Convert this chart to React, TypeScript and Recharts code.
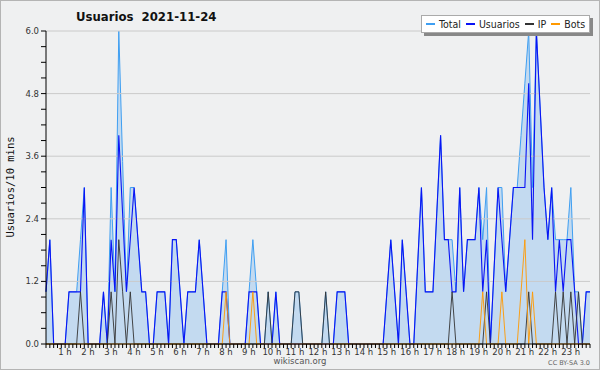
import React from 'react';
import { ComposedChart, Area, Line, XAxis, YAxis, ReferenceLine } from 'recharts';

// 10-minute slots, 00:00 .. 23:40
const usuarios = [
  1, 2, 0, 0, 0, 0, 1, 1, 1, 1, 3, 0,
  0, 0, 0, 1, 0, 2, 1, 4, 2.5, 1, 2, 3,
  2, 1, 1, 0, 0, 1, 1, 1, 0, 2, 2, 1,
  0, 1, 1, 1, 2, 1, 0, 0, 0, 0, 1, 1,
  0, 0, 0, 0, 0, 1, 1, 1, 0, 0, 0, 0,
  1, 0, 0, 0, 0, 0, 0, 0, 0, 0, 0, 0,
  0, 0, 0, 0, 1, 1, 1, 0, 0, 0, 0, 0,
  0, 0, 0, 0, 0, 1, 2, 1, 0, 2, 1, 0,
  0, 1.5, 3, 1, 1, 1, 2.5, 4, 2, 2, 1, 1,
  3, 1, 2, 2, 2, 3, 1, 2, 0, 1.5, 3, 2,
  1, 2, 3, 3, 3, 3, 5, 2, 6, 4.5, 3, 2,
  3, 1, 2, 1, 2, 2, 1, 0, 0, 1, 1,
];

const ip = [
  0, 0, 0, 0, 0, 0, 0, 0, 0, 1, 0, 0,
  0, 0, 0, 0, 0, 1, 0, 2, 1, 0, 1, 0,
  0, 0, 0, 0, 0, 0, 0, 0, 0, 0, 0, 0,
  0, 0, 0, 0, 0, 0, 0, 0, 0, 0, 0, 0,
  0, 0, 0, 0, 0, 0, 0, 0, 0, 0, 1, 0,
  0, 0, 0, 0, 0, 1, 1, 0, 0, 0, 0, 0,
  0, 1, 0, 0, 0, 0, 0, 0, 0, 0, 0, 0,
  0, 0, 0, 0, 0, 0, 0, 0, 0, 0, 0, 0,
  0, 0, 0, 0, 0, 0, 0, 0, 0, 0, 1, 0,
  0, 0, 0, 0, 0, 0, 0, 1, 0, 0, 0, 0,
  0, 0, 0, 0, 0, 0, 1, 0, 0, 0, 0, 0,
  0, 1, 0, 1, 0, 1, 0, 1, 0, 0, 0,
];

const bots = [
  0, 0, 0, 0, 0, 0, 0, 0, 0, 0, 0, 0,
  0, 0, 0, 0, 0, 0, 0, 0, 0, 0, 0, 0,
  0, 0, 0, 0, 0, 0, 0, 0, 0, 0, 0, 0,
  0, 0, 0, 0, 0, 0, 0, 0, 0, 0, 0, 1,
  0, 0, 0, 0, 0, 0, 1, 0, 0, 0, 0, 0,
  0, 0, 0, 0, 0, 0, 0, 0, 0, 0, 0, 0,
  0, 0, 0, 0, 0, 0, 0, 0, 0, 0, 0, 0,
  0, 0, 0, 0, 0, 0, 0, 0, 0, 0, 0, 0,
  0, 0, 0, 0, 0, 0, 0, 0, 0, 0, 0, 0,
  0, 0, 0, 0, 0, 0, 1, 0, 0, 0, 0, 1,
  0, 0, 0, 0, 1, 2, 0, 1, 0, 0, 0, 0,
  0, 0, 0, 0, 0, 0, 0, 0, 0, 0, 0,
];

const total = [
  1, 2, 0, 0, 0, 0, 1, 1, 1, 2, 3, 0,
  0, 0, 0, 1, 0, 3, 1, 6, 3.5, 1, 3, 3,
  2, 1, 1, 0, 0, 1, 1, 1, 0, 2, 2, 1,
  0, 1, 1, 1, 2, 1, 0, 0, 0, 0, 1, 2,
  0, 0, 0, 0, 0, 1, 2, 1, 0, 0, 1, 0,
  1, 0, 0, 0, 0, 1, 1, 0, 0, 0, 0, 0,
  0, 1, 0, 0, 1, 1, 1, 0, 0, 0, 0, 0,
  0, 0, 0, 0, 0, 1, 2, 1, 0, 2, 1, 0,
  0, 1.5, 3, 1, 1, 1, 2.5, 4, 2, 2, 2, 1,
  3, 1, 2, 2, 2, 3, 2, 3, 0, 1.5, 3, 3,
  1, 2, 3, 3, 4, 5, 6, 3, 6, 4.5, 3, 2,
  3, 2, 2, 2, 2, 3, 1, 1, 0, 1, 1,
];

const hourLabels = [
  '1 h', '2 h', '3 h', '4 h', '5 h', '6 h', '7 h', '8 h', '9 h', '10 h', '11 h', '12 h',
  '13 h', '14 h', '15 h', '16 h', '17 h', '18 h', '19 h', '20 h', '21 h', '22 h', '23 h',
];
const yMajor = [0, 1.2, 2.4, 3.6, 4.8, 6.0];
const yTicks = [
  0, 0.3, 0.6, 0.9, 1.2, 1.5, 1.8, 2.1, 2.4, 2.7, 3.0,
  3.3, 3.6, 3.9, 4.2, 4.5, 4.8, 5.1, 5.4, 5.7, 6.0,
];

const series = [
  { key: 'total', name: 'Total', color: '#3f9ff2' },
  { key: 'usuarios', name: 'Usuarios', color: '#0a14f5' },
  { key: 'ip', name: 'IP', color: '#333333' },
  { key: 'bots', name: 'Bots', color: '#ff9900' },
];

const data = total.map((t, i) => ({
  i,
  total: t,
  usuarios: usuarios[i],
  ip: ip[i],
  bots: bots[i],
}));

const xTicks = data.map(d => d.i);
const FONT = '"DejaVu Sans", sans-serif';
const NARROW = '"DejaVu Sans Condensed", "Liberation Sans Narrow", "DejaVu Sans", sans-serif';

const XTick = (props: any) => {
  const { x, y, payload } = props;
  const v = payload.value;
  if (v === 0 || v % 6 !== 0) return <g />;
  return (
    <text x={x - 4} y={y - 1} dy="0.71em" textAnchor="middle" fontSize={8.5} fill="#333" fontFamily={FONT}>
      {hourLabels[v / 6 - 1]}
    </text>
  );
};

const YTick = (props: any) => {
  const { x, y, payload } = props;
  if (!yMajor.includes(payload.value)) return <g />;
  return (
    <text x={x} y={y} dy="0.35em" textAnchor="end" fontSize={8.5} fill="#333" fontFamily={FONT}>
      {payload.value.toFixed(1)}
    </text>
  );
};

export default function App() {
  return (
    <div style={{ position: 'fixed', left: 0, top: 0, width: 600, height: 370, background: '#eff0f1', fontFamily: FONT }}>
      <ComposedChart width={600} height={370} data={data} margin={{ top: 31, right: 10, bottom: 0, left: 0 }}>
        {yMajor.slice(1).map(v => (
          <ReferenceLine key={v} y={v} stroke="#cacaca" strokeWidth={1} ifOverflow="extendDomain" />
        ))}
        <XAxis
          type="number"
          dataKey="i"
          domain={[0, 142]}
          ticks={xTicks}
          interval={0}
          tickSize={4}
          height={26}
          axisLine={{ stroke: '#000' }}
          tickLine={{ stroke: '#000' }}
          tick={<XTick />}
        />
        <YAxis
          type="number"
          domain={[0, 6]}
          ticks={yTicks}
          interval={0}
          tickSize={5}
          width={46}
          axisLine={{ stroke: '#000' }}
          tickLine={{ stroke: '#000' }}
          tick={<YTick />}
        />
        <Area
          type="linear"
          dataKey="total"
          stroke={series[0].color}
          strokeWidth={1}
          fill="#9ec8ee"
          fillOpacity={0.55}
          dot={false}
          activeDot={false}
          isAnimationActive={false}
        />
        <Line type="linear" dataKey="usuarios" stroke={series[1].color} strokeWidth={1.1} dot={false} activeDot={false} isAnimationActive={false} />
        <Line type="linear" dataKey="ip" stroke={series[2].color} strokeWidth={0.9} dot={false} activeDot={false} isAnimationActive={false} />
        <Line type="linear" dataKey="bots" stroke={series[3].color} strokeWidth={0.9} dot={false} activeDot={false} isAnimationActive={false} />
      </ComposedChart>

      <div style={{ position: 'absolute', left: 76, top: 9, fontFamily: NARROW, fontSize: 13, fontWeight: 'bold', color: '#111', whiteSpace: 'pre' }}>
        {'Usuarios  2021-11-24'}
      </div>

      <div
        style={{
          position: 'absolute', left: 421, top: 15, width: 169, height: 18, boxSizing: 'border-box',
          background: '#fff', border: '1px solid #aaa', boxShadow: '3px 3px 0 #888',
          display: 'flex', alignItems: 'center', paddingLeft: 4, fontFamily: NARROW, fontSize: 10.5, color: '#222',
        }}
      >
        {series.map(s => (
          <span key={s.key} style={{ display: 'flex', alignItems: 'center', marginRight: 5 }}>
            <span style={{ display: 'inline-block', width: 9, height: 1.2, background: s.color, marginRight: 4 }} />
            {s.name}
          </span>
        ))}
      </div>

      <div
        style={{
          position: 'absolute', left: 10, top: 187, transform: 'translate(-50%, -50%) rotate(-90deg)',
          fontFamily: '"DejaVu Sans Mono", monospace', fontSize: 10.5, color: '#111', whiteSpace: 'nowrap',
        }}
      >
        Usuarios/10 mins
      </div>

      <div style={{ position: 'absolute', left: 0, width: 600, top: 356, textAlign: 'center', fontSize: 8.5, color: '#555' }}>
        wikiscan.org
      </div>
      <div style={{ position: 'absolute', right: 10, top: 359, fontSize: 6.5, color: '#666' }}>CC BY-SA 3.0</div>

      <div style={{ position: 'absolute', inset: 0, border: '1px solid #b4b4b4', pointerEvents: 'none' }} />
    </div>
  );
}
